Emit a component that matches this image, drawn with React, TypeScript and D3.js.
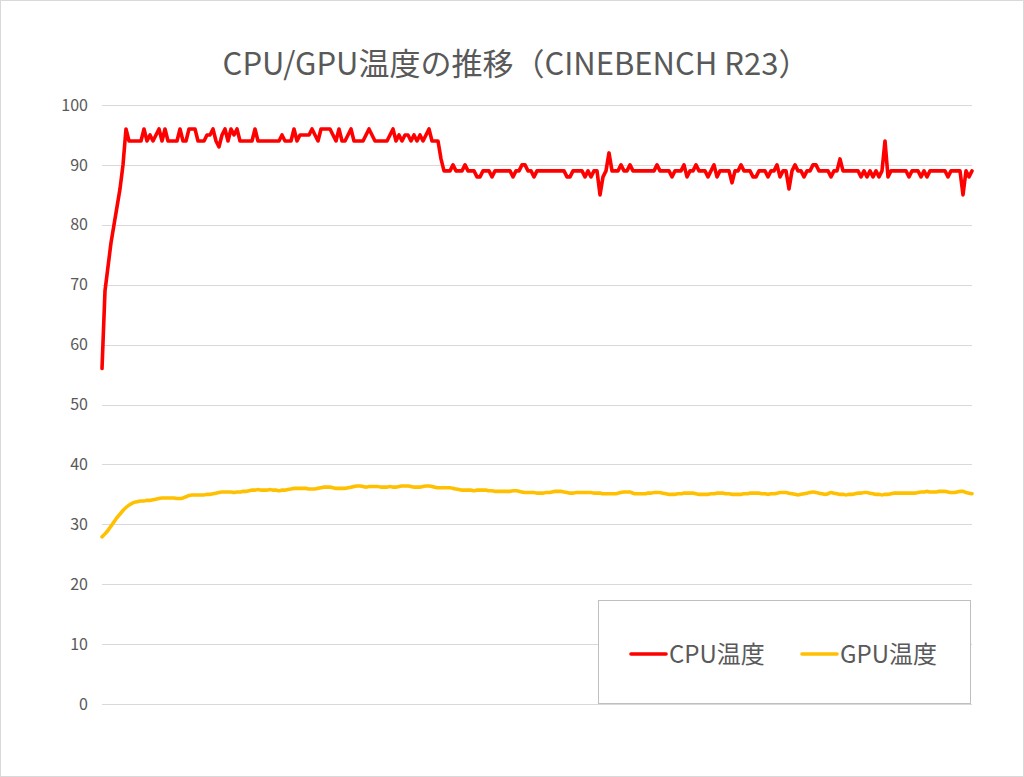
import React from "react";
import * as d3 from "d3";

const title = "CPU/GPU温度の推移（CINEBENCH R23）";
const seriesNames = ["CPU温度", "GPU温度"];
const yTicks = [0, 10, 20, 30, 40, 50, 60, 70, 80, 90, 100];

const cpuTemp: number[] = [
  56, 69, 73, 77, 80, 83, 86, 90, 96, 94,
  94, 94, 94, 94, 96, 94, 95, 94, 95, 96,
  94, 96, 94, 94, 94, 94, 96, 94, 94, 96,
  96, 96, 94, 94, 94, 95, 95, 96, 94, 93,
  95, 96, 94, 96, 95, 96, 94, 94, 94, 94,
  94, 96, 94, 94, 94, 94, 94, 94, 94, 94,
  95, 94, 94, 94, 96, 94, 95, 95, 95, 95,
  96, 95, 94, 96, 96, 96, 96, 95, 94, 96,
  94, 94, 95, 96, 94, 94, 94, 94, 95, 96,
  95, 94, 94, 94, 94, 94, 95, 96, 94, 95,
  94, 95, 95, 94, 95, 94, 95, 94, 95, 96,
  94, 94, 94, 91, 89, 89, 89, 90, 89, 89,
  89, 90, 89, 89, 89, 88, 88, 89, 89, 89,
  88, 89, 89, 89, 89, 89, 89, 88, 89, 89,
  90, 90, 89, 89, 88, 89, 89, 89, 89, 89,
  89, 89, 89, 89, 89, 88, 88, 89, 89, 89,
  89, 88, 89, 88, 89, 89, 85, 88, 89, 92,
  89, 89, 89, 90, 89, 89, 90, 89, 89, 89,
  89, 89, 89, 89, 89, 90, 89, 89, 89, 89,
  88, 89, 89, 89, 90, 88, 89, 89, 90, 89,
  89, 89, 88, 89, 90, 88, 89, 89, 89, 89,
  87, 89, 89, 90, 89, 89, 89, 88, 88, 89,
  89, 89, 88, 89, 89, 90, 88, 89, 89, 86,
  89, 90, 89, 89, 88, 89, 89, 90, 90, 89,
  89, 89, 89, 88, 89, 89, 91, 89, 89, 89,
  89, 89, 89, 88, 89, 88, 89, 88, 89, 88,
  89, 94, 88, 89, 89, 89, 89, 89, 89, 88,
  89, 89, 89, 88, 89, 88, 89, 89, 89, 89,
  89, 89, 88, 89, 89, 89, 89, 85, 89, 88,
  89,
];

const gpuTemp: number[] = [
  27.9, 28.4, 29.0, 29.7, 30.4, 31.1, 31.7, 32.3, 32.8, 33.2,
  33.5, 33.7, 33.8, 33.9, 33.9, 34.0, 34.0, 34.1, 34.2, 34.3,
  34.4, 34.4, 34.4, 34.4, 34.4, 34.3, 34.3, 34.4, 34.6, 34.8,
  34.9, 34.9, 34.9, 34.9, 34.9, 35.0, 35.0, 35.1, 35.2, 35.3,
  35.4, 35.4, 35.4, 35.4, 35.3, 35.4, 35.4, 35.5, 35.5, 35.6,
  35.7, 35.7, 35.8, 35.7, 35.7, 35.7, 35.8, 35.7, 35.7, 35.6,
  35.7, 35.7, 35.8, 35.9, 36.0, 36.0, 36.0, 36.0, 36.0, 35.9,
  35.9, 35.9, 36.0, 36.1, 36.2, 36.2, 36.2, 36.1, 36.0, 36.0,
  36.0, 36.0, 36.1, 36.2, 36.3, 36.4, 36.4, 36.3, 36.2, 36.3,
  36.3, 36.3, 36.3, 36.2, 36.2, 36.2, 36.3, 36.2, 36.2, 36.3,
  36.4, 36.4, 36.4, 36.3, 36.2, 36.2, 36.2, 36.3, 36.4, 36.4,
  36.3, 36.2, 36.1, 36.1, 36.1, 36.1, 36.1, 36.0, 35.9, 35.8,
  35.7, 35.7, 35.7, 35.7, 35.6, 35.7, 35.7, 35.7, 35.7, 35.6,
  35.6, 35.5, 35.5, 35.5, 35.5, 35.5, 35.5, 35.6, 35.6, 35.5,
  35.4, 35.3, 35.3, 35.3, 35.3, 35.2, 35.2, 35.2, 35.3, 35.3,
  35.4, 35.5, 35.5, 35.5, 35.4, 35.3, 35.2, 35.2, 35.3, 35.3,
  35.3, 35.3, 35.3, 35.3, 35.2, 35.2, 35.2, 35.1, 35.1, 35.1,
  35.1, 35.1, 35.2, 35.3, 35.4, 35.4, 35.4, 35.2, 35.1, 35.1,
  35.1, 35.1, 35.2, 35.2, 35.3, 35.3, 35.3, 35.2, 35.1, 35.0,
  35.0, 35.0, 35.1, 35.1, 35.2, 35.2, 35.2, 35.2, 35.1, 35.0,
  35.0, 35.0, 35.0, 35.1, 35.1, 35.2, 35.2, 35.2, 35.1, 35.1,
  35.0, 35.0, 35.0, 35.0, 35.1, 35.1, 35.2, 35.2, 35.2, 35.2,
  35.1, 35.1, 35.0, 35.1, 35.1, 35.2, 35.3, 35.3, 35.3, 35.2,
  35.1, 35.0, 34.9, 35.0, 35.1, 35.2, 35.3, 35.4, 35.3, 35.2,
  35.1, 35.0, 35.1, 35.3, 35.2, 35.1, 35.0, 35.0, 34.9, 35.0,
  35.0, 35.1, 35.2, 35.2, 35.3, 35.3, 35.2, 35.1, 35.0, 35.0,
  34.9, 35.0, 35.0, 35.1, 35.2, 35.2, 35.2, 35.2, 35.2, 35.2,
  35.2, 35.2, 35.3, 35.4, 35.4, 35.5, 35.4, 35.4, 35.4, 35.5,
  35.5, 35.5, 35.4, 35.3, 35.3, 35.4, 35.5, 35.5, 35.3, 35.2,
  35.1,
];

const W = 1024;
const H = 777;
const plot = { left: 102, right: 972, top: 105, bottom: 704 };
const colors = ["#ff0000", "#ffc000"];
const textColor = "#595959";
const font = "'Noto Sans CJK JP', 'Noto Sans', sans-serif";

export default function App() {
  const n = cpuTemp.length;
  const x = d3.scaleLinear().domain([0, n - 1]).range([plot.left, plot.right]);
  const y = d3.scaleLinear().domain([0, 100]).range([plot.bottom, plot.top]);

  const cpuLine = d3
    .line<number>()
    .x((_, i) => x(i))
    .y((d) => y(d))
    .curve(d3.curveLinear);
  const gpuLine = d3
    .line<number>()
    .x((_, i) => x(i))
    .y((d) => y(d))
    .curve(d3.curveMonotoneX);

  const legend = { x: 598, y: 600, w: 372, h: 103 };
  const legendItems = [
    { name: seriesNames[0], color: colors[0], x0: 631, x1: 666, tx: 669 },
    { name: seriesNames[1], color: colors[1], x0: 802, x1: 837, tx: 840 },
  ];
  const legendY = 654;

  return (
    <svg
      width={W}
      height={H}
      style={{ position: "absolute", left: 0, top: 0, background: "#fff" }}
      fontFamily={font}
    >
      <rect x={0.5} y={0.5} width={W - 1} height={H - 1} fill="#fff" stroke="#d9d9d9" />
      <text
        x={W / 2 + 4}
        y={75}
        textAnchor="middle"
        fontSize={31}
        fill={textColor}
      >
        {title}
      </text>
      {yTicks.map((t) => (
        <g key={t}>
          <line
            x1={plot.left}
            x2={plot.right}
            y1={Math.round(y(t)) + 0.5}
            y2={Math.round(y(t)) + 0.5}
            stroke="#d9d9d9"
            strokeWidth={1}
          />
          <text
            x={88}
            y={y(t)}
            dy="0.35em"
            textAnchor="end"
            fontSize={16}
            fill={textColor}
          >
            {t}
          </text>
        </g>
      ))}
      <path
        d={gpuLine(gpuTemp) || ""}
        fill="none"
        stroke={colors[1]}
        strokeWidth={3.6}
        strokeLinejoin="round"
        strokeLinecap="round"
      />
      <path
        d={cpuLine(cpuTemp) || ""}
        fill="none"
        stroke={colors[0]}
        strokeWidth={3.6}
        strokeLinejoin="round"
        strokeLinecap="round"
      />
      <rect
        x={legend.x + 0.5}
        y={legend.y + 0.5}
        width={legend.w}
        height={legend.h}
        fill="#fff"
        stroke="#bfbfbf"
      />
      {legendItems.map((it) => (
        <g key={it.name}>
          <line
            x1={it.x0}
            x2={it.x1}
            y1={legendY}
            y2={legendY}
            stroke={it.color}
            strokeWidth={3.6}
            strokeLinecap="round"
          />
          <text x={it.tx} y={legendY} dy="0.36em" fontSize={24} fill={textColor}>
            {it.name}
          </text>
        </g>
      ))}
    </svg>
  );
}
